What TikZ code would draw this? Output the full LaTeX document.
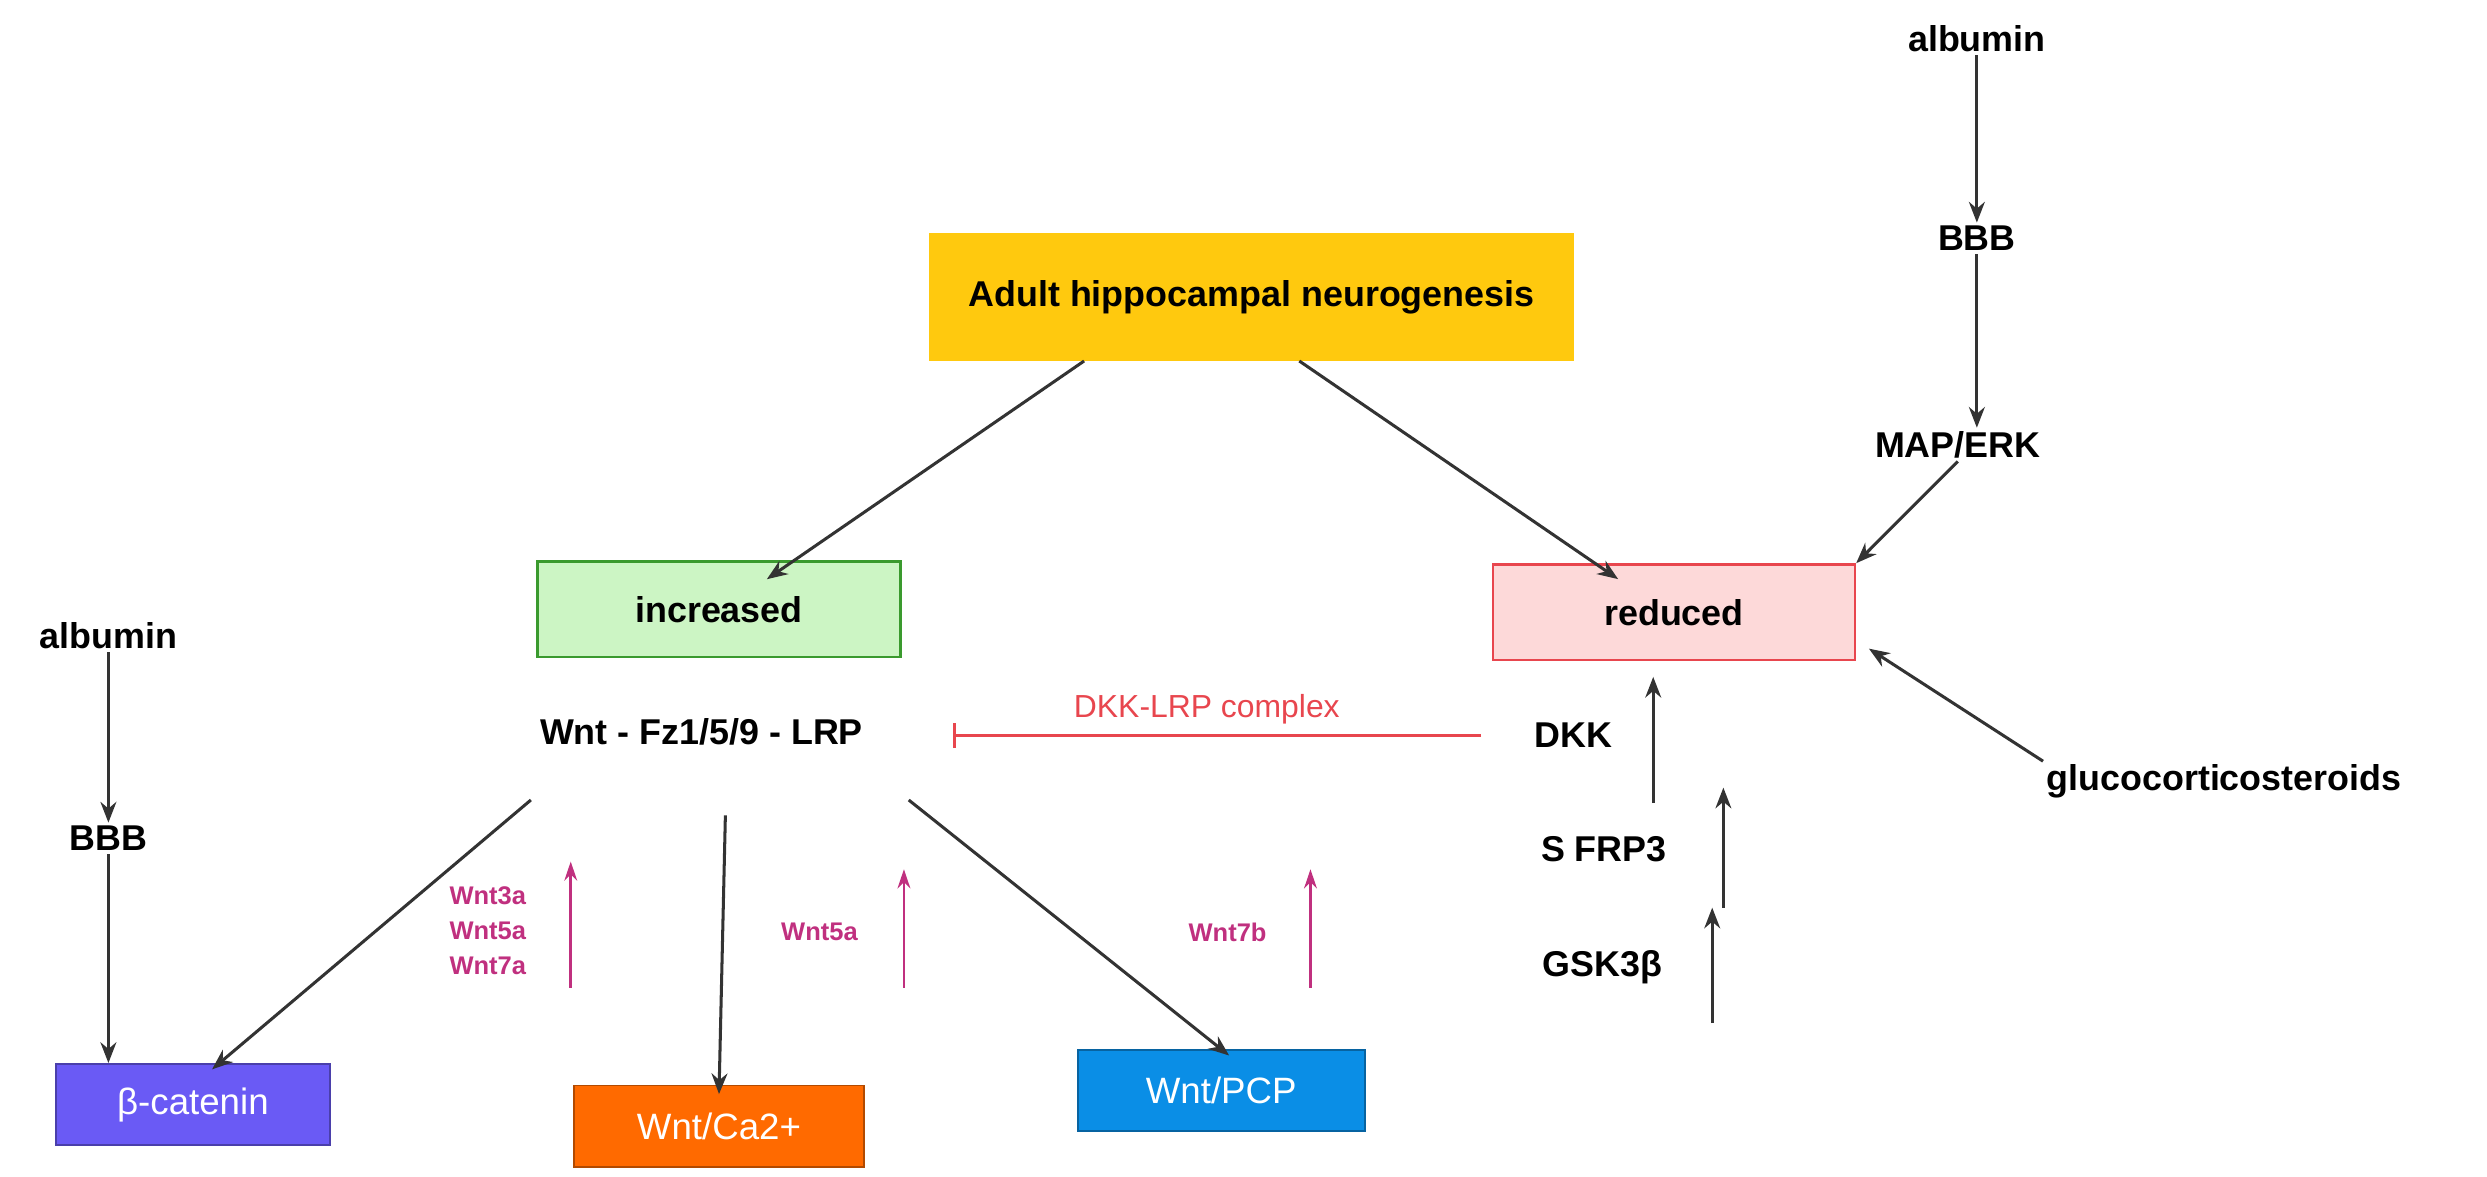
\documentclass[tikz,border=0pt]{standalone}
\usepackage{fontspec}
\setmainfont{Liberation Sans}
\usetikzlibrary{arrows.meta}
\definecolor{ttl}{HTML}{FFC90E}
\definecolor{gfill}{HTML}{CCF5C4}
\definecolor{gline}{HTML}{3A9A2E}
\definecolor{rfill}{HTML}{FDD9D9}
\definecolor{rline}{HTML}{E8464E}
\definecolor{bcat}{HTML}{6A5AF5}
\definecolor{wca}{HTML}{FF6A00}
\definecolor{wpcp}{HTML}{0A8EE6}
\definecolor{mag}{HTML}{C0307F}
\definecolor{ink}{HTML}{333333}
\begin{document}
\begin{tikzpicture}[x=1pt,y=-0.965pt,
  lbl/.style={font=\fontsize{22.5}{24}\selectfont\bfseries,text=black,inner sep=2pt},
  sm/.style={font=\fontsize{16}{18}\selectfont\bfseries,text=mag,inner sep=1pt},
  arr/.style={-{Stealth[length=13pt,width=10pt]},line width=1.9pt,draw=ink},
  marr/.style={-{Stealth[length=12pt,width=8pt]},line width=1.8pt,draw=mag},
  cbox/.style={draw=#1!70!black,line width=1.2pt,fill=#1,text=white,minimum height=51pt,font=\fontsize{23}{24}\selectfont}]
\useasboundingbox (0,0) rectangle (1560,765);
\node[fill=ttl,minimum width=405pt,minimum height=80pt,lbl] (t) at (785,193) {Adult hippocampal neurogenesis};
\node[draw=gline,line width=1.6pt,fill=gfill,minimum width=228pt,minimum height=60pt,lbl] (inc) at (451,396) {increased};
\node[draw=rline,line width=1.6pt,fill=rfill,minimum width=227pt,minimum height=60pt,lbl] (red) at (1050,398) {reduced};
\node[lbl] (a1) at (1240,25) {albumin};
\node[lbl] (b1) at (1240,155) {BBB};
\node[lbl] (m1) at (1228,289) {MAP/ERK};
\node[lbl] (gc) at (1395,508) {glucocorticosteroids};
\node[lbl] (a2) at (68,413) {albumin};
\node[lbl] (b2) at (68,545) {BBB};
\node[lbl] (w) at (440,476) {Wnt - Fz1/5/9 - LRP};
\node[lbl] (dkk) at (987,478) {DKK};
\node[lbl] (sfrp) at (1006,552) {S FRP3};
\node[lbl] (gsk) at (1005,629) {GSK3β};
\node[cbox=bcat,minimum width=172pt] (bc) at (121,718) {β-catenin};
\node[cbox=wca,minimum width=182pt] (ca) at (451,732) {Wnt/Ca2+};
\node[cbox=wpcp,minimum width=180pt] (pcp) at (766,709) {Wnt/PCP};
\node[sm,align=center] (s1) at (306,605) {Wnt3a\\[4pt]Wnt5a\\[4pt]Wnt7a};
\node[sm] (s2) at (514,606) {Wnt5a};
\node[sm] (s3) at (770,606) {Wnt7b};
\coordinate (ws) at (929,478);
\coordinate (we) at (598,478);
% arrows
\draw[arr] (a1) -- (b1);
\draw[arr] (b1) -- (b1 |- m1.north);
\draw[arr] (m1.south) -- (red.north east);
\draw[arr] (gc.north west) -- ([xshift=8pt,yshift=8pt]red.south east);
\draw[arr] ([xshift=-105pt]t.south) -- ([xshift=30pt,yshift=-12pt]inc.north);
\draw[arr] ([xshift=30pt]t.south) -- ([xshift=-35pt,yshift=-10pt]red.north);
\draw[arr] (a2) -- (b2);
\draw[arr] (b2) -- (b2 |- bc.north);
\draw[arr] (333,520) -- ([xshift=12pt,yshift=-4pt]bc.north);
\draw[arr] (455,530) -- ([yshift=-6pt]ca.north);
\draw[arr] (570,520) -- ([xshift=5pt,yshift=-4pt]pcp.north);
\draw[rline,line width=1.8pt,-{Bar[width=16pt]}] (ws) -- (we);
\node[font=\fontsize{20}{20}\selectfont,text=rline] (dl) at (757,461) {DKK-LRP complex};
% small up arrows
\draw[arr,line width=1.6pt] (1037,522) -- (1037,440);
\draw[arr,line width=1.6pt] (1081,590) -- (1081,512);
\draw[arr,line width=1.6pt] (1074,665) -- (1074,590);
\draw[marr] (358,642) -- (358,560);
\draw[marr] (567,642) -- (567,565);
\draw[marr] (822,642) -- (822,565);
\end{tikzpicture}
\end{document}
